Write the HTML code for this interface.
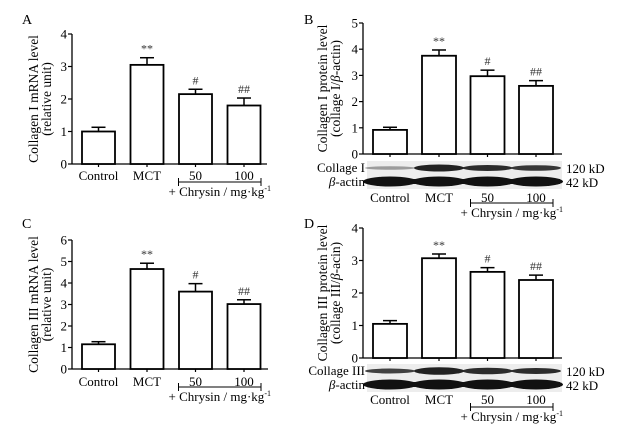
<!DOCTYPE html>
<html><head><meta charset="utf-8"><style>
body{margin:0;background:#fff}
svg{display:block;font-family:"Liberation Serif",serif}
</style></head><body>
<svg id="fig" width="621" height="432" viewBox="0 0 621 432" xmlns="http://www.w3.org/2000/svg"></svg>
<script>
const categories=["Control","MCT","50","100"];
const valuesA=[1.0,3.05,2.15,1.8];
const errorsA=[0.13,0.22,0.15,0.23];
const valuesB=[0.92,3.75,2.97,2.6];
const errorsB=[0.1,0.22,0.23,0.2];
const valuesC=[1.15,4.65,3.6,3.02];
const errorsC=[0.12,0.27,0.37,0.2];
const valuesD=[1.05,3.07,2.65,2.4];
const errorsD=[0.1,0.13,0.13,0.15];
const marks=["","**","#","##"];
const ticksA=[0,1,2,3,4],ticksB=[0,1,2,3,4,5],ticksC=[0,1,2,3,4,5,6],ticksD=[0,1,2,3,4];

const NS="http://www.w3.org/2000/svg";
const svg=document.getElementById('fig');
function el(tag,attrs,parent,text){const e=document.createElementNS(NS,tag);for(const k in attrs)e.setAttribute(k,attrs[k]);if(text!==undefined)e.textContent=text;(parent||svg).appendChild(e);return e;}

function panel(p){
  const g=el('g',{});
  
  
  const yScale=v=>p.y0-(v/p.max)*(p.y0-p.yTop);
  const lt=el('text',{x:p.letterX,y:p.letterY,'font-size':14},g,p.letter);
  
  const ya=el('line',{x1:p.ax,y1:p.yTop,x2:p.ax,y2:p.y0,stroke:'#000','stroke-width':1.3},g);
  
  const xa=el('line',{x1:p.ax,y1:p.y0,x2:p.axEnd,y2:p.y0,stroke:'#000','stroke-width':1.3},g);
  
  p.ticks.forEach(t=>{
    const y=yScale(t);
    el('line',{x1:p.ax-4,y1:y,x2:p.ax,y2:y,stroke:'#000','stroke-width':1.2},g);
    const tl=el('text',{x:p.ax-5,y:y+4.5,'font-size':13,'text-anchor':'end'},g,t);
    
  });
  const yt=el('text',{transform:`translate(${p.titleX},${(p.yTop+p.y0)/2}) rotate(-90)`,'font-size':13.5,'text-anchor':'middle'},g);
  
  el('tspan',{x:0,y:0},yt,p.title1);
  const t2=el('tspan',{x:0,y:13},yt);
  t2.innerHTML=p.title2;
  const bw=p.bw;
  categories.forEach((c,i)=>{
    const cx=p.bx[i];
    const v=p.vals[i],e=p.errs[i];
    const top=yScale(v),etop=yScale(v+e);
    const b=el('rect',{x:cx-bw/2,y:top,width:bw,height:p.y0-top,fill:'#fff',stroke:'#000','stroke-width':1.8},g);
    
    el('line',{x1:cx,y1:top,x2:cx,y2:etop,stroke:'#000','stroke-width':1.5},g);
    el('line',{x1:cx-7,y1:etop,x2:cx+7,y2:etop,stroke:'#000','stroke-width':1.5},g);
    el('line',{x1:cx,y1:p.y0,x2:cx,y2:p.y0+3,stroke:'#000','stroke-width':1.2},g);
    if(marks[i]){const m=el('text',{x:cx,y:etop-5,'font-size':12,'text-anchor':'middle',fill:'#333'},g,marks[i]);
      }
    const xl=el('text',{x:cx,y:p.labY,'font-size':13,'text-anchor':'middle'},g,c);
    
  });
  const br=el('path',{d:`M${p.bx[2]-17},${p.brY-4}V${p.brY+4}M${p.bx[2]-17},${p.brY}H${p.bx[3]+17}M${p.bx[3]+17},${p.brY-4}V${p.brY+4}`,stroke:'#000','stroke-width':1,fill:'none'},g);
  
  const ch=el('text',{x:(p.bx[2]+p.bx[3])/2,y:p.brY+14,'font-size':13,'text-anchor':'middle'},g);
  
  ch.innerHTML='+ Chrysin / mg·kg<tspan font-size="8" dy="-5">-1</tspan>';
  if(p.blot){
    const bl=el('g',{},g);
    
    el('rect',{x:p.ax+4,y:p.blot.y,width:p.axEnd-p.ax-4,height:28,fill:'#ededed'},bl);
    el('rect',{x:p.ax+6,y:p.blot.y+18,width:p.axEnd-p.ax-8,height:5,fill:'#111'},bl);
    categories.forEach((c,i)=>{
      const cx=p.bx[i];
      el('ellipse',{cx:cx,cy:p.blot.y+7,rx:25,ry:p.blot.top[i],fill:'#222',opacity:p.blot.op[i]},bl);
      el('ellipse',{cx:cx,cy:p.blot.y+20.5,rx:27,ry:5,fill:'#111'},bl);
    });
    const n1=el('text',{x:p.ax+2,y:p.blot.y+11,'font-size':13,'text-anchor':'end'},bl,p.blot.name);
    
    const n2=el('text',{x:p.ax+2,y:p.blot.y+25,'font-size':13,'text-anchor':'end'},bl);
    n2.innerHTML='<tspan font-style="italic">β</tspan>-actin';
    
    const k1=el('text',{x:p.axEnd+4,y:p.blot.y+12,'font-size':13},bl,'120 kD');
    
    const k2=el('text',{x:p.axEnd+4,y:p.blot.y+26,'font-size':13},bl,'42 kD');
    
  }
}
const bxL=[98.5,147,195.5,244], bxR=[390,439,487.5,536];
panel({letter:'A',letterX:22,letterY:24,ax:72,axEnd:267,yTop:34,y0:164,max:4,ticks:ticksA,vals:valuesA,errs:errorsA,bx:bxL,bw:33,labY:180,brY:182,titleX:38,title1:'Collagen I mRNA level',title2:'(relative unit)'});
panel({letter:'B',letterX:304,letterY:24,ax:363,axEnd:562,yTop:23,y0:154,max:5,ticks:ticksB,vals:valuesB,errs:errorsB,bx:bxR,bw:34,labY:202,brY:203,titleX:327,title1:'Collagen I protein level',title2:'(collage I/<tspan font-style="italic">β</tspan>-actin)',blot:{y:161,name:'Collage I',top:[1.8,3.5,3,2.8],op:[0.4,1,0.95,0.9]}});
panel({letter:'C',letterX:22,letterY:228,ax:72,axEnd:268,yTop:240,y0:369,max:6,ticks:ticksC,vals:valuesC,errs:errorsC,bx:bxL,bw:33,labY:386,brY:387,titleX:38,title1:'Collagen III mRNA level',title2:'(relative unit)'});
panel({letter:'D',letterX:304,letterY:228,ax:363,axEnd:562,yTop:228,y0:358,max:4,ticks:ticksD,vals:valuesD,errs:errorsD,bx:bxR,bw:34,labY:404,brY:407,titleX:327,title1:'Collagen III protein level',title2:'(collage III/<tspan font-style="italic">β</tspan>-acin)',blot:{y:364,name:'Collage III',top:[2.5,3.8,3.3,3],op:[0.85,1,0.95,0.95]}});
</script>
</body></html>
